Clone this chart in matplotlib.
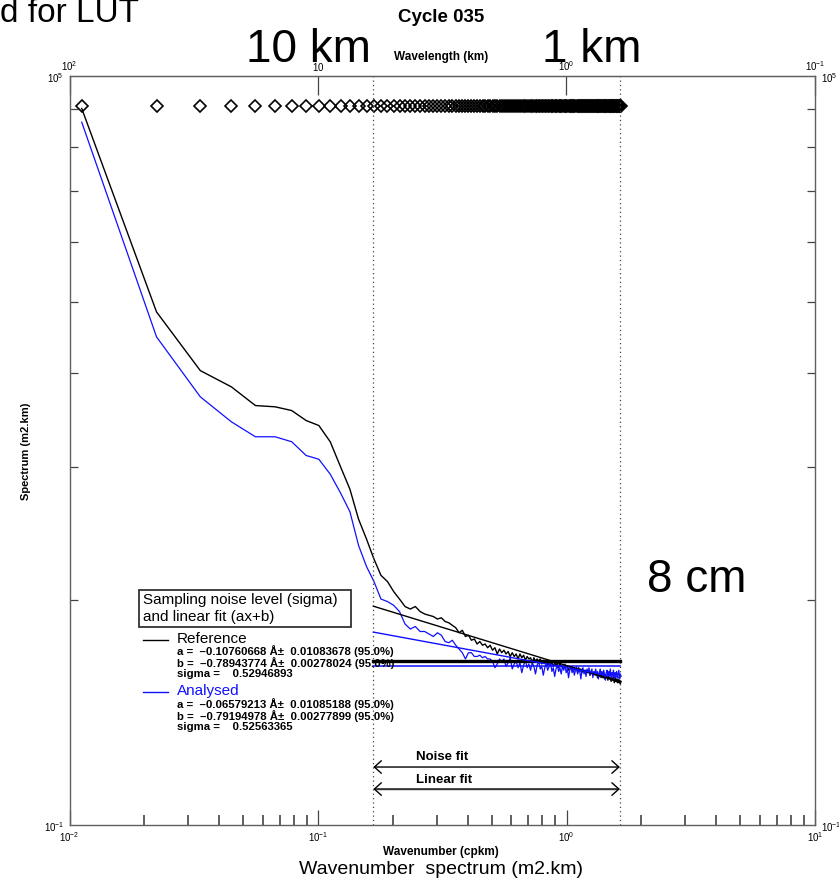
import numpy as np
import matplotlib.pyplot as plt
from matplotlib.patches import Rectangle
from matplotlib.lines import Line2D
from matplotlib.ticker import NullLocator, FixedLocator, NullFormatter, LogLocator

plt.rcParams['font.family'] = ['Liberation Sans', 'DejaVu Sans']
plt.rcParams['mathtext.default'] = 'regular'

W, H = 839, 887

# wavenumber grid of the spectrum (cpkm)
dk = 0.0112
wavenumber = dk * np.arange(1, 149)

# spectrum values, log10(m2.km)
ref_log10 = [
    4.74, 3.11, 2.64, 2.51, 2.36, 2.35, 2.32, 2.24, 2.20, 2.07,
    1.87, 1.69, 1.45, 1.29, 1.13, 1.00, 0.95, 0.87, 0.81, 0.75,
    0.73, 0.75, 0.71, 0.69, 0.68, 0.67, 0.65, 0.66, 0.63, 0.62,
    0.60, 0.58, 0.54, 0.56, 0.51, 0.52, 0.48, 0.49, 0.45, 0.47,
    0.44, 0.45, 0.42, 0.44, 0.40, 0.42, 0.37, 0.41, 0.38, 0.40,
    0.37, 0.39, 0.35, 0.38, 0.35, 0.37, 0.33, 0.37, 0.34, 0.36,
    0.32, 0.35, 0.33, 0.34, 0.30, 0.34, 0.31, 0.33, 0.31, 0.33,
    0.29, 0.32, 0.30, 0.32, 0.28, 0.31, 0.29, 0.30, 0.27, 0.30,
    0.28, 0.30, 0.26, 0.29, 0.27, 0.28, 0.25, 0.28, 0.26, 0.27,
    0.24, 0.26, 0.25, 0.27, 0.23, 0.26, 0.24, 0.25, 0.22, 0.26,
    0.23, 0.25, 0.22, 0.24, 0.23, 0.24, 0.21, 0.24, 0.22, 0.23,
    0.20, 0.23, 0.21, 0.22, 0.20, 0.22, 0.20, 0.22, 0.18, 0.21,
    0.19, 0.21, 0.18, 0.21, 0.18, 0.20, 0.17, 0.20, 0.18, 0.19,
    0.16, 0.19, 0.17, 0.18, 0.15, 0.18, 0.16, 0.18, 0.14, 0.18,
    0.15, 0.17, 0.14, 0.17, 0.14, 0.16, 0.13, 0.15,
]
ana_log10 = [
    4.63, 2.91, 2.43, 2.23, 2.11, 2.11, 2.07, 1.96, 1.93, 1.81,
    1.66, 1.51, 1.24, 1.07, 0.95, 0.81, 0.79, 0.76, 0.71, 0.61,
    0.57, 0.59, 0.55, 0.55, 0.53, 0.51, 0.54, 0.52, 0.47, 0.46,
    0.48, 0.44, 0.41, 0.38, 0.33, 0.38, 0.38, 0.35, 0.35, 0.36,
    0.34, 0.35, 0.33, 0.33, 0.31, 0.26, 0.29, 0.33,
    0.31, 0.33, 0.27, 0.30, 0.34, 0.25, 0.29, 0.31, 0.26, 0.30,
    0.22, 0.28, 0.32, 0.26, 0.29, 0.24, 0.30, 0.27, 0.21, 0.28,
    0.31, 0.25, 0.27, 0.20, 0.26, 0.29, 0.24, 0.27, 0.30, 0.23,
    0.26, 0.19, 0.25, 0.28, 0.23, 0.26, 0.21, 0.27, 0.24, 0.29,
    0.22, 0.25, 0.18, 0.24, 0.27, 0.22, 0.26, 0.20, 0.24, 0.27,
    0.21, 0.25, 0.23, 0.17, 0.24, 0.26, 0.21, 0.24, 0.19, 0.25,
    0.22, 0.26, 0.20, 0.23, 0.25, 0.18, 0.23, 0.21, 0.25, 0.20,
    0.23, 0.17, 0.22, 0.25, 0.20, 0.23, 0.19, 0.24, 0.21, 0.16,
    0.22, 0.24, 0.19, 0.23, 0.20, 0.25, 0.18, 0.22, 0.20, 0.24,
    0.17, 0.22, 0.20, 0.23, 0.18, 0.21, 0.24, 0.17, 0.21, 0.19,
]

# noise levels and linear fits over the fit range
fit_k = [0.167, 1.64]
noise_ref = 2.05
noise_ana = 1.87
fit_ref = [5.66, 1.40]
fit_ana = [3.51, 1.52]
marker_level = 5.8e4

yticks_minor = [6.3, 74, 420, 1550, 4700, 12000, 27000, 54500]

ref_text = ["a =  \u20130.10760668 \u00c5\u00b1  0.01083678 (95.0%)",
            "b =  \u20130.78943774 \u00c5\u00b1  0.00278024 (95.0%)",
            "sigma =    0.52946893"]
ana_text = ["a =  \u20130.06579213 \u00c5\u00b1  0.01085188 (95.0%)",
            "b =  \u20130.79194978 \u00c5\u00b1  0.00277899 (95.0%)",
            "sigma =    0.52563365"]

fig = plt.figure(figsize=(W / 100, H / 100), dpi=100)
ax = fig.add_axes([69.5 / W, 1 - 826 / H, 745.5 / W, 749 / H])


def ftext(x, y, s, **kw):
    fig.text(x / W, 1 - y / H, s, **kw)


ax.set_xscale('log')
ax.set_yscale('log')
ax.set_xlim(1e-2, 1e1)
ax.set_ylim(1e-1, 1e5)

ax.plot(wavenumber, 10 ** np.array(ref_log10), color='black', lw=1.0)
ax.plot(wavenumber, 10 ** np.array(ana_log10), color='#1010ff', lw=0.9)
ax.plot(wavenumber, np.full(len(wavenumber), marker_level), ls='none',
        marker='D', ms=6, mfc='none', mec='black', mew=1.2)

for k in fit_k:
    ax.axvline(k, color='#444444', ls=(0, (1, 2.5)), lw=0.9)

ax.plot(fit_k, [noise_ref, noise_ref], color='black', lw=2.4)
ax.plot(fit_k, [noise_ana, noise_ana], color='#1010ff', lw=1.1)
ax.plot(fit_k, fit_ref, color='black', lw=1.0)
ax.plot(fit_k, fit_ana, color='#1010ff', lw=1.0)

# fit range arrows
tr = ax.get_xaxis_transform()
for yf in [0.0774, 0.048]:
    ax.annotate('', xy=(fit_k[1], yf), xytext=(fit_k[0], yf), xycoords=tr,
                arrowprops=dict(arrowstyle='<->,head_length=0.5,head_width=0.45',
                                color='black', lw=1.0, shrinkA=0, shrinkB=0))
ax.plot([0.175, 1.57], [0.048, 0.048], transform=tr, color='#c8c8c8', lw=1.8)
ax.text(0.465, 0.092, 'Noise fit', transform=ax.transAxes, fontsize=9.5,
        fontweight='bold', va='center')
ax.text(0.465, 0.0614, 'Linear fit', transform=ax.transAxes, fontsize=9.5,
        fontweight='bold', va='center')

# axes styling
for s in ax.spines.values():
    s.set_color('#606060')
    s.set_linewidth(1.0)
ax.xaxis.set_major_locator(FixedLocator([1e-2, 1e-1, 1e0, 1e1]))
ax.xaxis.set_minor_locator(LogLocator(base=10, subs=np.arange(2, 10)))
ax.xaxis.set_minor_formatter(NullFormatter())
ax.set_yticks([1e-1, 1e5])
ax.yaxis.set_minor_locator(FixedLocator(yticks_minor))
ax.yaxis.set_minor_formatter(NullFormatter())
ax.tick_params(axis='x', which='major', direction='in', length=11, width=0.9,
               labelsize=7, pad=3, color='#444444')
ax.tick_params(axis='x', which='minor', direction='in', length=7, width=1.1,
               color='#333333', top=False)
ax.tick_params(axis='y', which='major', length=0, labelsize=7, pad=4,
               left=True, right=True, labelright=True)
ax.tick_params(axis='y', which='minor', direction='in', length=6, width=0.9,
               color='#444444', left=True, right=True)

secax = ax.secondary_xaxis('top', functions=(lambda k: 1 / k, lambda w: 1 / w))
secax.set_xticks([1e2, 1e1, 1e0, 1e-1],
                 labels=['$10^2$', '$10$', '$10^0$', '$10^{-1}$'])
secax.xaxis.set_minor_locator(NullLocator())
secax.tick_params(axis='x', direction='in', length=14, width=0.9,
                  labelsize=7, pad=3, color='#444444')
secax.spines['top'].set_color('#606060')

ftext(441, 57, 'Wavelength (km)', fontsize=8.5, fontweight='bold',
      ha='center', va='center')
ftext(441, 852, 'Wavenumber (cpkm)', fontsize=8.5, fontweight='bold',
      ha='center', va='center')
ftext(26, 451, 'Spectrum (m2.km)', fontsize=8, fontweight='bold',
      ha='center', va='center', rotation=90)
ftext(441, 18, 'Cycle 035', fontsize=13.5, fontweight='bold',
      ha='center', va='center')
ftext(441, 870, 'Wavenumber  spectrum (m2.km)', fontsize=14,
      ha='center', va='center')

# overlay labels
ftext(0, 22, 'd for LUT', fontsize=24, ha='left', va='baseline')
ftext(308, 50, '10 km', fontsize=33, ha='center', va='center')
ftext(592, 50, '1 km', fontsize=33, ha='center', va='center')
ftext(697, 580, '8 cm', fontsize=33, ha='center', va='center')

# legend block
fig.add_artist(Rectangle((139 / W, 1 - 628 / H), 212 / W, 37 / H, fill=False,
                         lw=1.3, ec='#333333', transform=fig.transFigure))
ftext(143, 600, 'Sampling noise level (sigma)', fontsize=11, va='center')
ftext(143, 617, 'and linear fit (ax+b)', fontsize=11, va='center')
fig.add_artist(Line2D([143 / W, 168 / W], [1 - 641 / H] * 2, color='black',
                      lw=1.0, transform=fig.transFigure))
ftext(177, 639, 'Reference', fontsize=11, va='center')
fig.add_artist(Line2D([143 / W, 168 / W], [1 - 693 / H] * 2, color='#1010ff',
                      lw=1.0, transform=fig.transFigure))
ftext(177, 691, 'Analysed', fontsize=11, va='center', color='#1010ff')
for i, s in enumerate(ref_text):
    ftext(177, 651.5 + 11.5 * i, s, fontsize=8.2, fontweight='bold', va='center')
for i, s in enumerate(ana_text):
    ftext(177, 704.5 + 11.5 * i, s, fontsize=8.2, fontweight='bold', va='center')

fig.savefig('out.png', dpi=100)
